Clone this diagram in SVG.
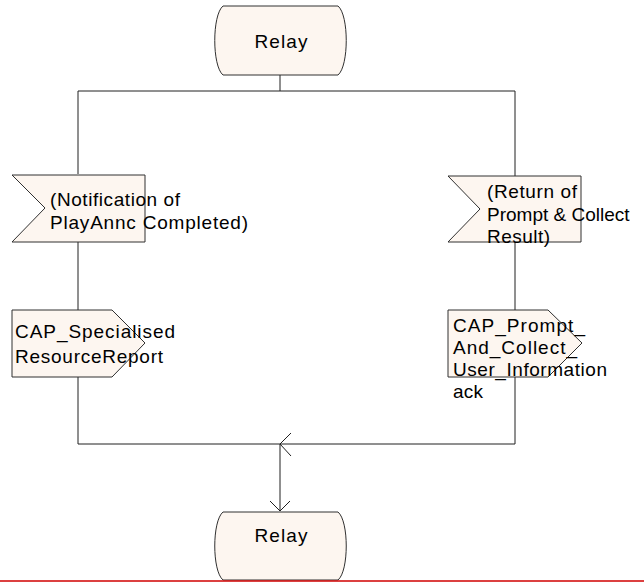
<svg xmlns="http://www.w3.org/2000/svg" width="644" height="582" viewBox="0 0 644 582">
<style>
.shape{fill:#fdf6f0;stroke:#303030;stroke-width:1}
.line{fill:none;stroke:#202020;stroke-width:1}
text{font-family:"Liberation Sans",Arial,sans-serif;font-size:19px;fill:#000}
</style>
<rect width="644" height="582" fill="#fff"/>
<g id="connectors">
<line class="line" x1="280" y1="75" x2="280" y2="91"/>
<polyline class="line" points="78,174 78,91 515,91 515,176"/>
<line class="line" x1="78" y1="242" x2="78" y2="310"/>
<line class="line" x1="515" y1="242" x2="515" y2="310"/>
<polyline class="line" points="78,377 78,444 515,444 515,377"/>
<polyline class="line" points="291,433 280,444 291,456"/>
<line class="line" x1="280" y1="444" x2="280" y2="511"/>
<polyline class="line" points="270,501 280,511 290,501"/>
</g>
<g id="relay_top">
<path class="shape" d="M223,6 L338,6 C349,15 349,66 338,75 L223,75 C212,66 212,15 223,6 Z"/>
<text x="281" y="48" text-anchor="middle" textLength="53" lengthAdjust="spacing">Relay</text>
</g>
<g id="input_left">
<path class="shape" d="M12,175 L145,175 L145,242 L12,242 L45,208 Z"/>
<text x="50" y="206" textLength="130" lengthAdjust="spacing">(Notification of</text>
<text x="50" y="229" textLength="198" lengthAdjust="spacing">PlayAnnc Completed)</text>
</g>
<g id="input_right">
<path class="shape" d="M448,176 L581,176 L581,242 L448,242 L480,209 Z"/>
<text x="487" y="198" textLength="90" lengthAdjust="spacing">(Return of</text>
<text x="487" y="221">Prompt &amp; Collect</text>
<text x="487" y="243" textLength="63" lengthAdjust="spacing">Result)</text>
</g>
<g id="output_left">
<path class="shape" d="M12,310 L112,310 L145,343 L112,377 L12,377 Z"/>
<text x="15" y="338" textLength="160" lengthAdjust="spacing">CAP_Specialised</text>
<text x="15" y="363" textLength="148" lengthAdjust="spacing">ResourceReport</text>
</g>
<g id="output_right">
<path class="shape" d="M448,310 L548,310 L582,343 L548,377 L448,377 Z"/>
<text x="453" y="332" textLength="132" lengthAdjust="spacing">CAP_Prompt_</text>
<text x="453" y="354" textLength="124" lengthAdjust="spacing">And_Collect_</text>
<text x="453" y="376" textLength="154" lengthAdjust="spacing">User_Information</text>
<text x="453" y="398" textLength="30" lengthAdjust="spacing">ack</text>
</g>
<g id="relay_bottom">
<path class="shape" d="M223,512 L338,512 C349,521 349,571 338,580 L223,580 C212,571 212,521 223,512 Z"/>
<text x="281" y="542" text-anchor="middle" textLength="53" lengthAdjust="spacing">Relay</text>
</g>
<line x1="0" y1="581" x2="644" y2="581" stroke="#d00000" stroke-width="1.5"/>
</svg>
